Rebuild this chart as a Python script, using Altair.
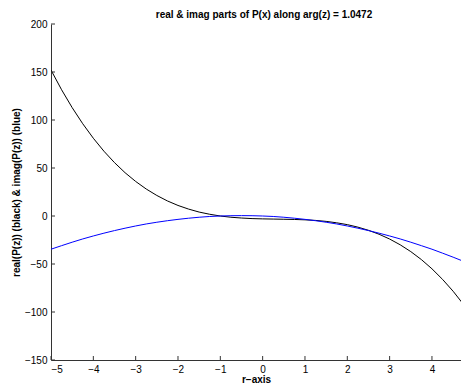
import altair as alt
import pandas as pd

# values
r_vals = [-5.0, -4.75, -4.5, -4.25, -4.0, -3.75, -3.5, -3.25, -3.0, -2.75, -2.5, -2.25,
          -2.0, -1.75, -1.5, -1.25, -1.0, -0.75, -0.5, -0.25, 0.0, 0.25, 0.5, 0.75,
          1.0, 1.25, 1.5, 1.75, 2.0, 2.25, 2.5, 2.75, 3.0, 3.25, 3.5, 3.75, 4.0,
          4.25, 4.5, 4.75, 5.0]
real_vals = [152.0, 131.5, 112.9, 96.1, 81.0, 67.5, 55.6, 45.1, 36.0, 28.1, 21.4, 15.7,
             11.0, 7.2, 4.1, 1.8, 0.0, -1.3, -2.1, -2.7, -3.0, -3.2, -3.4, -3.6,
             -4.0, -4.6, -5.6, -7.1, -9.0, -11.6, -14.9, -19.0, -24.0, -30.0, -37.1, -45.4, -55.0,
             -66.0, -78.4, -92.4, -108.0]
imag_vals = [-34.6, -30.9, -27.3, -23.9, -20.8, -17.9, -15.2, -12.7, -10.4, -8.3, -6.5, -4.9,
             -3.5, -2.3, -1.3, -0.5, 0.0, 0.3, 0.4, 0.3, 0.0, -0.5, -1.3, -2.3,
             -3.5, -4.9, -6.5, -8.3, -10.4, -12.7, -15.2, -17.9, -20.8, -23.9, -27.3, -30.9, -34.6,
             -38.7, -42.9, -47.3, -52.0]
x_ticks = [-5, -4, -3, -2, -1, 0, 1, 2, 3, 4]
y_ticks = [-150, -100, -50, 0, 50, 100, 150, 200]

W, H = 410, 336
FONT = "Liberation Sans"

df = pd.DataFrame({"r": r_vals, "re": real_vals, "im": imag_vals})
xt = pd.DataFrame({"v": x_ticks})
yt = pd.DataFrame({"v": y_ticks})

xscale = alt.Scale(domain=[-5, 4.686], nice=False, zero=False)
yscale = alt.Scale(domain=[-150, 200], nice=False, zero=False)

xaxis = alt.Axis(values=x_ticks, title="r−axis", grid=False, ticks=False, tickSize=0,
                 labelPadding=4, titleY=22, titleBaseline="alphabetic")
yaxis = alt.Axis(values=y_ticks, title="real(P(z)) (black) & imag(P(z)) (blue)", grid=False,
                 ticks=False, tickSize=0, labelPadding=4, titleX=-30)

base = alt.Chart(df)
real_line = base.mark_line(color="#000000", strokeWidth=1, clip=True).encode(
    x=alt.X("r:Q", scale=xscale, axis=xaxis),
    y=alt.Y("re:Q", scale=yscale, axis=yaxis),
)
imag_line = base.mark_line(color="#0000ff", strokeWidth=1, clip=True).encode(
    x=alt.X("r:Q", scale=xscale),
    y=alt.Y("im:Q", scale=yscale),
)
xtick_marks = alt.Chart(xt).mark_rule(color="#333333", strokeWidth=1).encode(
    x=alt.X("v:Q", scale=xscale),
    y=alt.value(H), y2=alt.value(H - 4),
)
ytick_marks = alt.Chart(yt).mark_rule(color="#333333", strokeWidth=1).encode(
    y=alt.Y("v:Q", scale=yscale),
    x=alt.value(0), x2=alt.value(4),
)

chart = alt.layer(real_line, imag_line, xtick_marks, ytick_marks).properties(
    width=W, height=H,
    title=alt.TitleParams("real & imag parts of P(x) along arg(z) = 1.0472", fontSize=10,
                          font=FONT, fontWeight="bold", color="#000000", offset=3, dx=8, dy=4),
    autosize=alt.AutoSizeParams(type="none"),
    padding={"left": 43, "top": 16, "right": 0, "bottom": 23},
).configure_view(stroke=None).configure_axis(
    labelFont=FONT, labelFontSize=10, labelColor="#000000",
    titleFont=FONT, titleFontSize=10, titleFontWeight="bold", titleColor="#000000",
    domainColor="#333333", domainWidth=1,
)

chart.save("out.html", embed_options={"renderer": "svg", "actions": False})
